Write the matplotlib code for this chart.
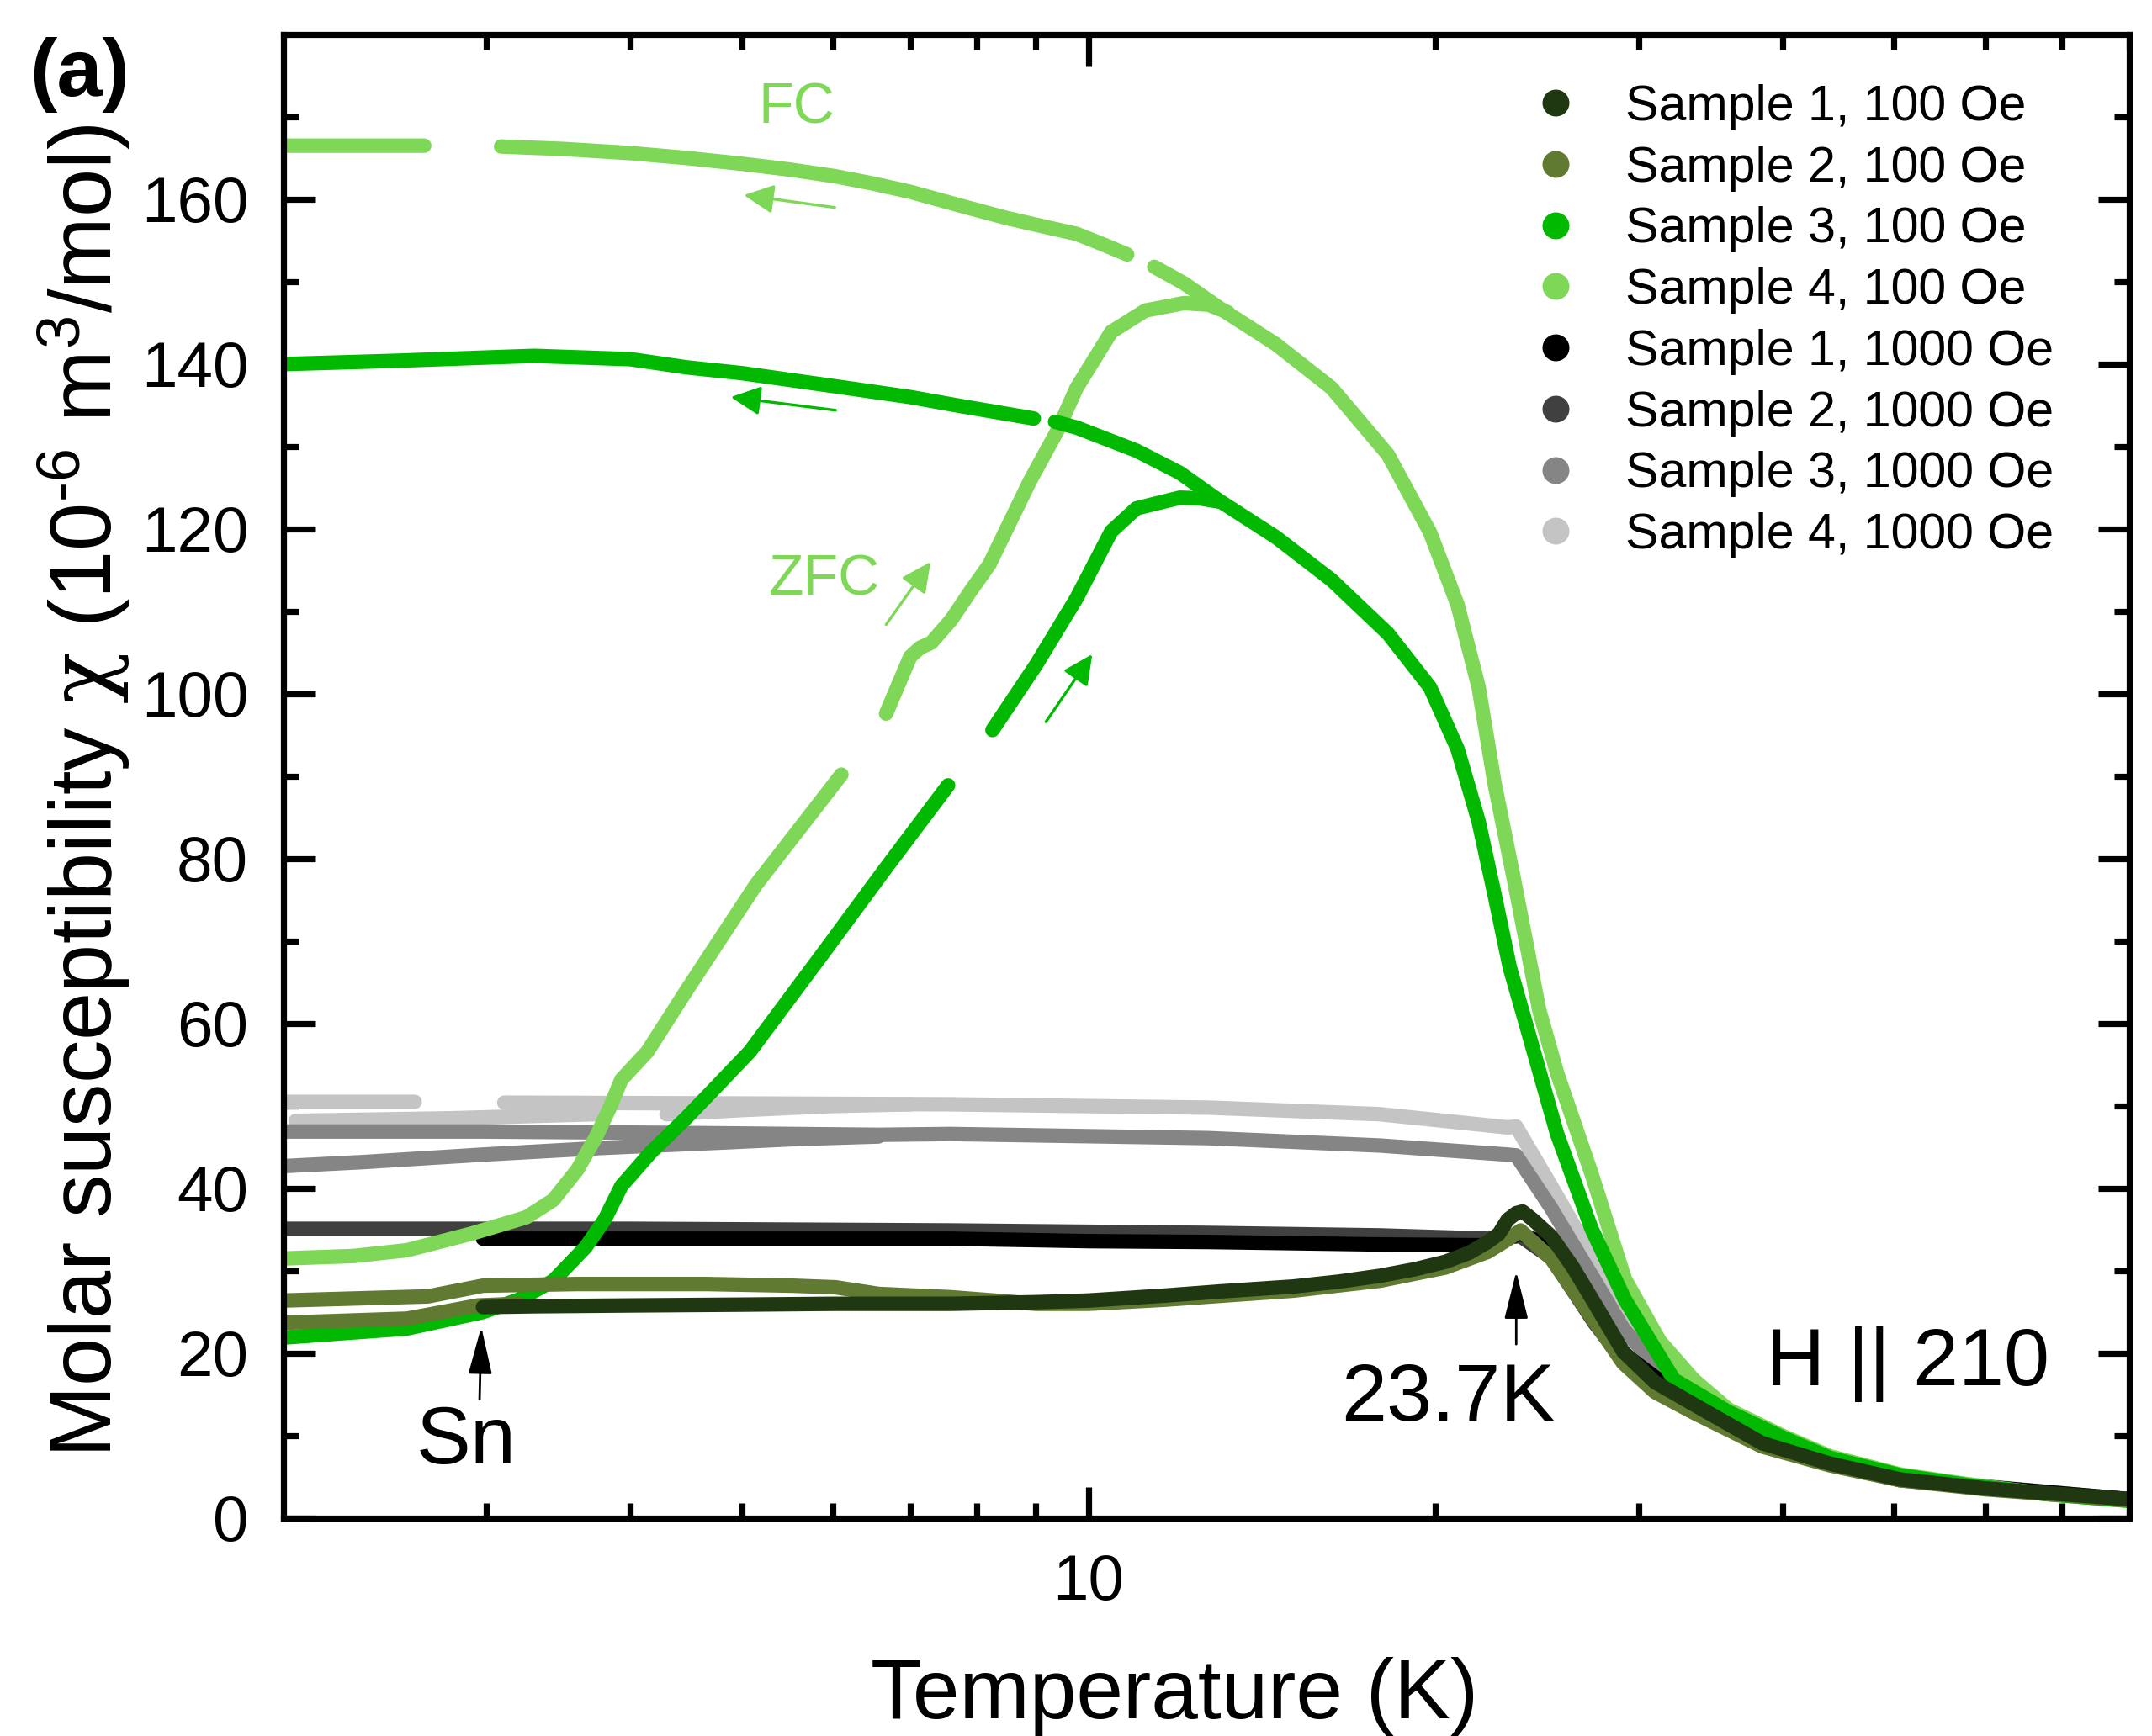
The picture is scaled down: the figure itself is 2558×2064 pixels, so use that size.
import numpy as np
import matplotlib
matplotlib.use("Agg")
import matplotlib.pyplot as plt
from matplotlib.lines import Line2D
from matplotlib.ticker import FixedLocator, NullFormatter, FixedFormatter

plt.rcParams['font.family'] = ['Liberation Sans', 'DejaVu Sans']
plt.rcParams['mathtext.fontset'] = 'custom'
plt.rcParams['mathtext.rm'] = 'Liberation Sans'
plt.rcParams['mathtext.it'] = 'DejaVu Serif'
plt.rcParams['xtick.direction'] = 'in'
plt.rcParams['ytick.direction'] = 'in'

nan = np.nan

# ---- data ----
# Sample 4, 100 Oe
t_s4_fc = [2.0, 2.3, 2.65, 2.8, 3.09, 3.5, 4.0, 4.48, 5.0, 5.5, 6.02, 6.5, 7.0, 7.75, 8.5, 9.2, 9.76, 10.3, 10.8, 11.1,
           11.4, 12.1, 12.99, 14.54, 16.25, 18.19, 19.78, 20.9, 21.8, 22.5, 23.4, 24.6, 25.5, 27.3, 29.2, 31.3,
           33.5, 35.9, 40.0, 44.0, 50.6, 58.0, 68.0, 80.0]
chi_s4_fc = [166.5, 166.5, 166.5, nan, 166.4, 166.1, 165.6, 165.0, 164.3, 163.6, 162.8, 161.9, 160.9, 159.2, 157.7, 156.6, 155.8, 154.5, 153.3, nan,
             151.8, 149.8, 146.8, 142.4, 137.1, 129.0, 119.6, 110.8, 100.8, 89.2, 77.4, 61.7, 54.0, 41.9, 29.0, 21.5,
             16.8, 13.2, 10.0, 7.5, 5.3, 4.1, 2.9, 2.1]
t_s4_zfc = [2.0, 2.3, 2.56, 2.91, 3.25, 3.43, 3.60, 3.74, 3.84, 3.93, 4.14, 4.48, 5.14, 5.6, 6.10, 6.4, 6.67,
            7.0, 7.14, 7.3, 7.6, 7.9, 8.2, 8.89, 9.4, 9.76, 10.46, 11.2, 12.1, 12.7, 13.2]
chi_s4_zfc = [31.5, 31.8, 32.5, 34.5, 36.5, 38.6, 42.3, 46.4, 49.8, 53.2, 56.6, 64.1, 76.8, 83.5, 90.2, nan, 97.6,
              104.5, 105.6, 106.2, 109.0, 112.5, 115.7, 125.8, 132.0, 137.1, 143.9, 146.5, 147.4, 147.2, 146.3]

# Sample 3, 100 Oe
t_s3_fc = [2.0, 2.5, 3.0, 3.3, 4.0, 4.48, 5.0, 6.03, 7.0, 7.75, 8.96, 9.15, 9.35, 9.76, 11.0, 12.0, 12.99, 14.54,
           16.25, 18.19, 19.78, 20.9, 21.8, 22.5, 23.2, 23.9, 25.5, 27.3, 29.2, 32.2, 35.9, 40.0, 44.0, 50.6, 58.0, 68.0, 80.0]
chi_s3_fc = [140.0, 140.4, 140.8, 141.0, 140.6, 139.6, 138.9, 137.3, 136.0, 134.9, 133.4, nan, 133.0, 132.3, 129.5, 126.8, 123.4, 119.0,
             113.8, 107.3, 100.8, 93.3, 84.5, 75.7, 66.8, 60.5, 46.6, 35.2, 26.5, 16.8, 12.9, 9.8, 7.3, 5.2, 4.0, 2.9, 2.1]
t_s3_zfc = [2.0, 2.56, 2.98, 3.2, 3.43, 3.66, 3.80, 3.93, 4.17, 4.47, 4.74, 5.08, 5.9, 6.67, 7.55, 7.9, 8.25,
            9.0, 9.76, 10.46, 11.0, 12.0, 12.5, 13.0]
chi_s3_zfc = [21.9, 23.0, 25.0, 26.5, 28.8, 32.9, 36.2, 40.3, 44.4, 48.5, 52.2, 56.6, 68.8, 78.9, 88.9, nan, 95.6,
              103.5, 111.6, 119.7, 122.5, 123.8, 123.7, 123.3]

# Sample 2, 100 Oe
t_s2_a = [2.0, 2.67, 2.98, 3.6, 4.66, 5.53, 6.03, 6.57, 7.59, 9.0, 10.0, 11.65, 15.06, 17.9, 20.4, 22.2, 23.1, 23.7,
          25.2, 27.5, 29.1, 31.0, 33.5, 38.4, 44.0, 50.6, 60.0, 70.0, 80.0]
chi_s2_a = [26.4, 26.9, 28.2, 28.4, 28.4, 28.2, 28.0, 27.2, 26.8, 26.0, 26.0, 26.5, 27.6, 28.8, 30.4, 32.3, 33.8, 34.9,
            31.5, 23.8, 18.8, 15.3, 12.8, 8.7, 6.4, 4.6, 3.5, 2.8, 2.2]
t_s2_b = [2.0, 2.56, 2.95, 3.2]
chi_s2_b = [23.7, 24.2, 25.8, 26.0]

# Sample 1, 100 Oe
t_s1 = [2.98, 3.3, 4.0, 5.0, 6.0, 7.59, 9.0, 10.0, 11.65, 13.0, 15.06, 16.5, 17.9, 19.2, 20.4, 21.4, 22.2, 22.7,
        23.1, 23.5, 23.8, 24.3, 25.2, 26.3, 27.5, 29.1, 31.0, 33.5, 38.4, 44.0, 50.6, 60.0, 70.0, 80.0]
chi_s1 = [25.6, 25.7, 25.8, 25.9, 26.0, 26.0, 26.2, 26.4, 27.0, 27.5, 28.1, 28.7, 29.4, 30.2, 31.1, 32.2, 33.5, 34.5,
          36.2, 37.0, 37.2, 36.2, 34.2, 30.5, 26.0, 20.2, 16.5, 13.8, 9.1, 6.6, 4.7, 3.6, 2.9, 2.3]

# 1000 Oe
t_k1 = [2.98, 4.0, 5.0, 7.59, 10.0, 12.7, 17.9, 22.2, 23.7, 25.2, 27.5, 29.1, 33.5, 38.4, 50.6, 80.0]
chi_k1 = [33.9, 33.9, 33.9, 33.9, 33.6, 33.5, 33.2, 33.1, 34.5, 33.0, 25.5, 20.0, 13.6, 9.0, 4.7, 2.3]
t_k2 = [2.0, 4.0, 7.59, 12.7, 17.9, 22.2, 23.7, 25.2, 27.5, 29.1, 33.5, 38.4, 50.6, 80.0]
chi_k2 = [35.1, 35.1, 34.9, 34.6, 34.3, 33.9, 34.2, 31.6, 23.6, 19.2, 13.2, 8.8, 4.6, 2.2]
t_k3_fc = [2.0, 3.0, 4.66, 6.57, 7.59, 12.7, 17.9, 23.1, 23.5, 25.2, 27.5, 29.1, 31.5, 33.5, 38.4, 50.6, 80.0]
chi_k3_fc = [46.9, 46.9, 46.7, 46.5, 46.6, 46.1, 45.2, 44.1, 44.0, 37.6, 28.8, 23.0, 17.5, 14.0, 9.1, 4.7, 2.3]
t_k3_zfc = [2.0, 2.35, 2.98, 3.77, 4.87, 5.6, 6.57]
chi_k3_zfc = [42.7, 43.2, 44.1, 44.9, 45.6, 46.0, 46.3]
t_k4_fc = [2.0, 2.6, 2.85, 3.11, 5.0, 7.59, 12.7, 17.9, 23.1, 23.5, 25.2, 27.5, 29.1, 31.5, 33.5, 38.4, 50.6, 80.0]
chi_k4_fc = [50.5, 50.5, nan, 50.4, 50.3, 50.2, 49.8, 49.0, 47.4, 47.5, 40.3, 31.1, 24.3, 18.5, 14.4, 9.3, 4.8, 2.3]
t_k4_zfc = [2.05, 2.79, 3.73, 4.0, 4.3, 5.0, 6.0, 7.0]
chi_k4_zfc = [48.2, 48.5, 49.0, nan, 49.0, 49.5, 50.0, 50.2]

labels = ["Sample 1, 100 Oe", "Sample 2, 100 Oe", "Sample 3, 100 Oe", "Sample 4, 100 Oe",
          "Sample 1, 1000 Oe", "Sample 2, 1000 Oe", "Sample 3, 1000 Oe", "Sample 4, 1000 Oe"]
colors = ["#1f3811", "#617a32", "#00b900", "#7ed756", "#000000", "#404040", "#858585", "#c4c4c4"]

fig = plt.figure(figsize=(12.79, 10.32), dpi=200)
ax = fig.add_axes([0.1317, 0.1255, 0.8577, 0.8547])

lw = 6.2
def curve(t, c, col):
    ax.plot(t, c, "-", color=col, lw=lw, solid_capstyle="round", solid_joinstyle="round")

# greys first, then greens on top
curve(t_k4_fc, chi_k4_fc, colors[7])
curve(t_k4_zfc, chi_k4_zfc, colors[7])
curve(t_k3_fc, chi_k3_fc, colors[6])
curve(t_k3_zfc, chi_k3_zfc, colors[6])
curve(t_k2, chi_k2, colors[5])
curve(t_k1, chi_k1, colors[4])
curve(t_s4_fc, chi_s4_fc, colors[3])
curve(t_s4_zfc, chi_s4_zfc, colors[3])
curve(t_s3_fc, chi_s3_fc, colors[2])
curve(t_s3_zfc, chi_s3_zfc, colors[2])
curve(t_s2_b, chi_s2_b, colors[1])
curve(t_s2_a, chi_s2_a, colors[1])
curve(t_s1, chi_s1, colors[0])

ax.set_xscale("log")
ax.set_xlim(2, 80)
ax.set_ylim(0, 180)

ax.xaxis.set_major_locator(FixedLocator([10]))
ax.xaxis.set_major_formatter(FixedFormatter(["10"]))
ax.xaxis.set_minor_locator(FixedLocator([3, 4, 5, 6, 7, 8, 9, 20, 30, 40, 50, 60, 70, 80]))
ax.xaxis.set_minor_formatter(NullFormatter())
ax.yaxis.set_major_locator(FixedLocator(list(range(0, 161, 20))))
ax.yaxis.set_minor_locator(FixedLocator(list(range(10, 171, 20))))

ax.tick_params(which="both", top=True, right=True, width=2.6)
ax.tick_params(which="major", length=13.5, labelsize=27.5)
ax.tick_params(axis="y", which="major", pad=15)
ax.tick_params(axis="x", which="major", pad=15)
ax.tick_params(which="minor", length=6.5)
for s in ax.spines.values():
    s.set_linewidth(2.6)

ax.set_xlabel("Temperature (K)", fontsize=36, labelpad=19, x=0.483)
ax.set_ylabel("Molar susceptibility $\\chi$ (10$^{\u20106}$ m$^{3}$/mol)", fontsize=37, labelpad=4, y=0.49)

handles = [Line2D([], [], ls="none", marker="o", ms=10.5, color=c) for c in colors]
ax.legend(handles, labels, loc="upper left", bbox_to_anchor=(0.665, 0.98), frameon=False,
          fontsize=21.3, handlelength=1.0, handletextpad=0.9, labelspacing=0.3, borderaxespad=0)

# annotations
fig.text(0.037, 0.957, "(a)", fontsize=35, fontweight="bold", ha="center", va="center")
ax.text(5.58, 171.1, "FC", color=colors[3], fontsize=24.5, ha="center", va="center")
ax.text(5.9, 113.8, "ZFC", color=colors[3], fontsize=24.5, ha="center", va="center")
ap_c = "-|>,head_length=0.45,head_width=0.22"
ax.annotate("", xy=(5.02, 160.5), xytext=(6.02, 159.0),
            arrowprops=dict(arrowstyle=ap_c, color=colors[3], lw=1.2, mutation_scale=24, shrinkA=0, shrinkB=0))
ax.annotate("", xy=(4.89, 136.0), xytext=(6.03, 134.4),
            arrowprops=dict(arrowstyle=ap_c, color=colors[2], lw=1.2, mutation_scale=24, shrinkA=0, shrinkB=0))
ax.annotate("", xy=(7.29, 116.0), xytext=(6.67, 108.4),
            arrowprops=dict(arrowstyle=ap_c, color=colors[3], lw=1.2, mutation_scale=24, shrinkA=0, shrinkB=0))
ax.annotate("", xy=(10.07, 104.8), xytext=(9.18, 96.6),
            arrowprops=dict(arrowstyle=ap_c, color=colors[2], lw=1.2, mutation_scale=24, shrinkA=0, shrinkB=0))
ap_k = "-|>,head_length=0.8,head_width=0.2"
ax.annotate("", xy=(2.97, 23.2), xytext=(2.96, 14.4),
            arrowprops=dict(arrowstyle=ap_k, color="black", lw=1.0, mutation_scale=22, shrinkA=0, shrinkB=0))
ax.annotate("", xy=(23.5, 29.9), xytext=(23.5, 21.1),
            arrowprops=dict(arrowstyle=ap_k, color="black", lw=1.0, mutation_scale=22, shrinkA=0, shrinkB=0))
ax.text(2.88, 9.2, "Sn", fontsize=35, ha="center", va="center")
ax.text(20.5, 14.4, "23.7K", fontsize=35, ha="center", va="center")
ax.text(51.4, 16.1, "H || 210", fontsize=35, ha="center", va="baseline")

fig.savefig("out.png", dpi=200)
